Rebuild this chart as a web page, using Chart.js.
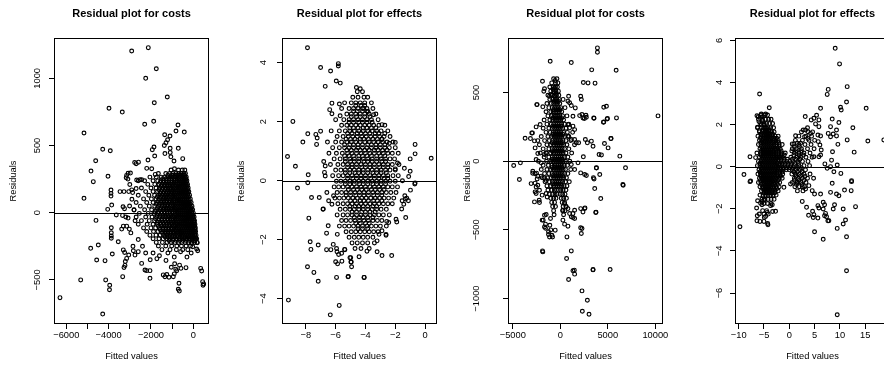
<!DOCTYPE html>
<html>
<head>
<meta charset="utf-8">
<script src="https://cdn.jsdelivr.net/npm/chart.js@4.4.0/dist/chart.umd.min.js"></script>
<style>
  html, body { margin: 0; padding: 0; background: #fff; }
  body { width: 884px; height: 376px; overflow: hidden; position: relative; }
  .panel { position: absolute; top: 0; width: 227px; height: 376px; }
</style>
</head>
<body>
<div class="panel" style="left:0px"><canvas id="p1" width="227" height="376"></canvas></div>
<div class="panel" style="left:228px"><canvas id="p2" width="227" height="376"></canvas></div>
<div class="panel" style="left:454px"><canvas id="p3" width="227" height="376"></canvas></div>
<div class="panel" style="left:681px"><canvas id="p4" width="227" height="376"></canvas></div>
<script>
// --- ticks ---
const p1XTicks = [-6000, -5000, -4000, -3000, -2000, -1000, 0];
const p1XLabels = [-6000, -4000, -2000, 0];
const p1YTicks = [-500, 0, 500, 1000];
const p2XTicks = [-8, -6, -4, -2, 0];
const p2YTicks = [-4, -2, 0, 2, 4];
const p3XTicks = [-5000, 0, 5000, 10000];
const p3YTicks = [-1000, -500, 0, 500];
const p4XTicks = [-10, -5, 0, 5, 10, 15];
const p4YTicks = [-6, -4, -2, 0, 2, 4, 6];

// --- panel 1: costs, [fitted, residual] read one by one ---
const p1Loose = [
  [-2126,1228],[-2911,1203],[-1748,1071],[-2249,1000],[-1229,861],[-1843,818],[-3983,777],[-3355,749],
  [-1871,680],[-2296,658],[-723,653],[-5164,593],[-818,608],[-426,600],[-1352,580],[-1101,571],[-1214,543],
  [-1290,520],[-1370,500],[-1857,489],[-1937,469],[-709,479],[-1093,479],[-4280,472],[-3922,461],[-1340,440],
  [-1090,448],[-1060,416],[-1824,422],[-500,402],[-912,385],[-2140,392],[-4611,387],[-2770,373],[-2700,365],
  [-2590,376],[-1965,327],[-2200,330],[-890,327],[-4833,310],[-3080,293],[-2970,295],[-3150,278],[-1800,285],
  [-4030,271],[-4724,231],[-3170,260],[-3090,250],[-2520,246],[-5164,107],[-3888,169],[-3888,144],[-3888,124],
  [-3463,157],[-3274,157],[-3050,157],[-2865,150],[-2910,170],[-2675,243],[-2600,238],[-2440,245],[-3855,57],
  [-4044,25],[-3638,-17],[-4597,-57],[-3320,44],[-3250,30],[-3010,50],[-3343,-20],[-3190,-32],[-3080,-40],
  [-3874,-112],[-3874,-149],[-3874,-173],[-3874,-190],[-3383,-122],[-3305,-100],[-3148,-100],[-3022,-122],
  [-3545,-216],[-4848,-265],[-4488,-240],[-3827,-307],[-4565,-352],[-4170,-357],[-3306,-277],[-3243,-296],
  [-3148,-340],[-3212,-363],[-3227,-392],[-3274,-407],[-3050,-315],[-2833,-283],[-2755,-315],[-2600,-290],
  [-2440,-377],[-2283,-426],[-2046,-488],[-5320,-500],[-6298,-632],[-4280,-754],[-4139,-500],[-3950,-540],
  [-3960,-573],[-3336,-476],[-2036,-350],[-1720,-342],[-1290,-355],[-2202,-431],[-2046,-431],[-1420,-463],
  [-1340,-476],[-1040,-406],[-785,-432],[-582,-414],[-345,-409],[-945,-476],[-898,-455],[-676,-525],[-708,-570],
  [-660,-583],[348,-414],[395,-434],[442,-513],[490,-530],[460,-540],[-76,-228],[-28,-253],[190,-223],[208,-283],
  [160,-270],[-2900,100],[-2750,-60],[-2800,20],[-2950,-150],[-2700,180],[-3000,210],[-2600,-200],[-2850,-250],
  [-2400,-250],[-2250,-300],[-1900,-300],[-1600,-320],[-1200,-300],[-900,-330],[-600,-290],[-300,-330],
  [-100,-300],[-1250,-460],[-1150,-480],[-880,-380],[-830,-420],[-650,-390]
];
// dense wedge, [residual, [fitted...]]
const p1Rows = [
  [318, [-1050, -700, -520, -400]],
  [292, [-1650, -1300, -1120, -960, -820, -690, -570, -450, -370]],
  [265, [-2050, -1750, -1520, -1350, -1210, -1080, -950, -830, -710, -600, -490, -390, -330]],
  [238, [-2300, -1900, -1680, -1530, -1400, -1270, -1140, -1010, -890, -780, -670, -560, -460, -370, -300]],
  [211, [-2150, -1820, -1620, -1480, -1350, -1220, -1090, -970, -850, -740, -640, -540, -440, -350, -270]],
  [184, [-2450, -2000, -1760, -1580, -1440, -1310, -1180, -1060, -940, -830, -720, -620, -520, -420, -330, -240]],
  [157, [-2250, -1900, -1690, -1530, -1390, -1260, -1130, -1010, -900, -790, -690, -590, -490, -390, -300, -210]],
  [130, [-2600, -2100, -1830, -1640, -1490, -1350, -1220, -1090, -970, -860, -750, -650, -550, -450, -360, -270, -175]],
  [103, [-2350, -1980, -1760, -1590, -1440, -1310, -1180, -1060, -940, -830, -720, -620, -520, -420, -330, -240, -140]],
  [76, [-2700, -2200, -1900, -1700, -1540, -1400, -1270, -1140, -1020, -900, -790, -690, -590, -490, -390, -300, -200, -100]],
  [49, [-2500, -2080, -1820, -1640, -1480, -1350, -1220, -1090, -970, -860, -750, -650, -550, -450, -350, -250, -150, -60]],
  [22, [-2800, -2300, -1970, -1740, -1570, -1430, -1300, -1170, -1050, -930, -820, -710, -610, -510, -410, -310, -210, -110, -30]],
  [-5, [-2550, -2130, -1860, -1660, -1500, -1360, -1230, -1100, -980, -860, -750, -650, -550, -450, -350, -250, -150, -60, 10]],
  [-32, [-2700, -2250, -1950, -1730, -1560, -1420, -1290, -1160, -1040, -920, -810, -700, -600, -500, -400, -300, -200, -110, -20, 40]],
  [-59, [-2450, -2080, -1830, -1640, -1480, -1340, -1210, -1080, -960, -850, -740, -640, -540, -440, -340, -240, -150, -60, 20, 60]],
  [-86, [-2600, -2180, -1900, -1700, -1530, -1390, -1260, -1130, -1010, -890, -780, -670, -570, -470, -370, -270, -180, -90, 0, 80]],
  [-113, [-2350, -2000, -1780, -1600, -1440, -1300, -1170, -1040, -920, -810, -700, -600, -500, -400, -300, -210, -120, -30, 50, 100]],
  [-140, [-2200, -1880, -1670, -1500, -1350, -1210, -1080, -960, -840, -730, -620, -520, -420, -320, -220, -130, -40, 40, 110]],
  [-167, [-2050, -1760, -1560, -1400, -1250, -1110, -980, -860, -740, -630, -520, -410, -310, -210, -110, -20, 60, 130]],
  [-194, [-1900, -1620, -1420, -1250, -1090, -940, -800, -670, -540, -420, -300, -180, -70, 40, 120, 160]],
  [-221, [-1750, -1460, -1240, -1040, -860, -700, -540, -380, -220, -80, 60, 170]],
  [-248, [-1650, -1300, -1020, -780, -560, -340, -130]],
  [-275, [-1480, -1100, -800, -500, -260]],
  [279, [-1200, -1010, -880, -750, -630, -510, -410]],
  [252, [-1450, -1280, -1150, -1010, -890, -760, -650, -540, -430, -350]],
  [225, [-1560, -1410, -1280, -1160, -1030, -910, -800, -690, -590, -490, -400, -320]],
  [198, [-1520, -1380, -1250, -1120, -1000, -890, -780, -670, -570, -470, -380, -290]],
  [171, [-1620, -1470, -1330, -1200, -1080, -960, -850, -740, -640, -540, -440, -350, -260]],
  [144, [-1580, -1440, -1300, -1170, -1050, -940, -830, -730, -630, -530, -430, -340, -250]],
  [117, [-1700, -1540, -1400, -1270, -1140, -1020, -910, -800, -700, -600, -500, -400, -310, -220]],
  [90, [-1650, -1500, -1370, -1240, -1110, -990, -880, -770, -670, -570, -470, -370, -280, -180]],
  [63, [-1750, -1600, -1460, -1330, -1200, -1080, -960, -850, -740, -640, -540, -440, -340, -250, -150]],
  [36, [-1690, -1540, -1400, -1270, -1140, -1020, -900, -790, -690, -590, -490, -390, -290, -190, -90]],
  [9, [-1800, -1640, -1500, -1370, -1240, -1110, -990, -870, -760, -660, -560, -460, -360, -260, -160, -70]],
  [-18, [-1720, -1580, -1440, -1310, -1180, -1060, -940, -830, -720, -620, -520, -420, -320, -220, -130, -40]],
  [-45, [-1780, -1620, -1480, -1350, -1220, -1100, -980, -860, -750, -650, -550, -450, -350, -250, -160, -70, 10]],
  [-72, [-1700, -1550, -1420, -1290, -1160, -1040, -920, -810, -700, -600, -500, -400, -300, -210, -120, -30, 40]],
  [-99, [-1650, -1500, -1370, -1240, -1110, -990, -870, -760, -650, -550, -450, -350, -250, -160, -70, 10, 70]],
  [-126, [-1560, -1420, -1280, -1150, -1020, -900, -790, -680, -570, -470, -370, -270, -180, -90, 0, 80]],
  [-153, [-1450, -1310, -1180, -1050, -920, -800, -690, -580, -480, -380, -280, -180, -90, 0, 80]],
  [-180, [-1330, -1170, -1020, -880, -750, -630, -510, -400, -290, -190, -90, 10, 100]],
  [-207, [-1150, -970, -800, -640, -480, -330, -180, -40, 80]]
];

// --- panel 2: effects ---
const p2Loose = [
  [-7.89,4.51],[-5.82,3.97],[-5.82,3.89],[-7.01,3.84],[-6.34,3.72],[-5.96,3.38],[-5.69,3.31],[-6.70,3.20],
  [-4.61,3.16],[-4.35,3.12],[-8.87,2.01],[-8.20,1.31],[-7.87,1.59],[-7.33,1.57],[-7.24,1.45],[-7.28,1.23],
  [-7.01,1.68],[-9.23,0.82],[-8.70,0.49],[-0.67,1.23],[0.41,0.76],[-7.84,0.20],[-7.87,-0.07],[-8.56,-0.25],
  [-7.62,-0.57],[-7.10,-0.57],[-7.80,-1.27],[-6.83,-0.96],[-7.71,-2.07],[-7.66,-2.33],[-7.17,-2.18],
  [-7.89,-2.92],[-7.46,-3.11],[-7.17,-3.41],[-9.17,-4.05],[-6.36,-4.55],[-5.76,-4.23],[-5.94,-3.28],
  [-5.15,-3.25],[-4.10,-3.28],[-5.04,-2.61],[-4.98,-2.76],[-4.93,-2.92],[-4.43,-2.58],[-2.24,-2.54],
  [-6.61,-2.34],[-6.32,-2.34],[-5.94,-2.30],[-5.38,-2.34],[-6.0,-2.75],[-5.80,-2.50],[-5.60,-2.46],
  [-6.16,-2.16],[-5.89,-1.82],[-6.50,-1.53],[-6.61,-1.78],[-2.62,-1.85],[-3.09,-1.82],[-3.22,-2.04],
  [-1.30,-1.25],[-1.57,-0.96],[-1.90,-1.40],[-2.57,-1.38],[-1.52,0.0],[-0.67,-0.08],[-1.0,0.32],[-1.39,0.42],
  [-1.0,0.74],[-0.67,0.91],[-1.12,-0.68],[-1.23,-0.59],[-6.8,0.65],[-6.7,0.5],[-6.75,0.28],[-6.7,0.16],
  [-6.25,2.63],[-6.4,2.41],[-6.25,2.27],[-5.75,2.6],[-5.6,2.45],[-5.7,2.2],[-1.1,0.14],[-2.0,0.4],
  [-1.85,0.6],[-2.4,1.27],[-2.0,1.3],[-2.9,1.4],[-2.7,1.6],[-3.45,2.24],[-3.83,2.35],[-4.12,2.46],[-2.89,1.9],
  [-6.85,-0.97],[-6.47,-0.68],[-6.25,-0.80],[-6.59,-0.40],[-6.14,-0.51],[-5.17,-3.26],[-4.08,-3.28],
  [-5.91,-2.41],[-5.40,-2.33],[-5.87,-2.82],[-5.58,-2.73],[-4.99,-2.61],[-4.95,-2.76],[-3.90,-2.39],
  [-3.22,-2.41],[-2.89,-2.54],[-1.54,-0.68],[-1.95,-1.31],[-2.62,-1.82],[-2.44,-1.42],[-2.89,-1.70],
  [-0.98,-0.32],[-0.69,-0.11],[-1.36,-0.51],[-1.32,-0.62],[-1.43,-0.80]
];
const p2Rows = [
  [3.02, [-4.55, -4.2]],
  [2.83, [-4.85, -4.5, -4.1, -3.85]],
  [2.64, [-5.4, -4.95, -4.65, -4.35, -4.05, -3.6]],
  [2.45, [-5.1, -4.8, -4.5, -4.2, -3.9, -3.5]],
  [2.26, [-5.25, -4.95, -4.65, -4.35, -4.05, -3.75, -3.3]],
  [2.07, [-6.0, -5.45, -5.1, -4.8, -4.5, -4.2, -3.9, -3.6, -3.15]],
  [1.88, [-5.6, -5.25, -4.95, -4.65, -4.35, -4.05, -3.75, -3.45, -3.1, -2.7]],
  [1.69, [-6.3, -5.75, -5.35, -5.05, -4.75, -4.45, -4.15, -3.85, -3.55, -3.25, -2.95, -2.5]],
  [1.50, [-5.9, -5.5, -5.15, -4.85, -4.55, -4.25, -3.95, -3.65, -3.35, -3.05, -2.75, -2.35]],
  [1.31, [-6.55, -6.0, -5.6, -5.25, -4.95, -4.65, -4.35, -4.05, -3.75, -3.45, -3.15, -2.85, -2.55, -2.15]],
  [1.12, [-6.2, -5.75, -5.4, -5.1, -4.8, -4.5, -4.2, -3.9, -3.6, -3.3, -3.0, -2.7, -2.4, -2.0]],
  [0.93, [-6.45, -5.95, -5.55, -5.2, -4.9, -4.6, -4.3, -4.0, -3.7, -3.4, -3.1, -2.8, -2.5, -2.2, -1.8]],
  [0.74, [-6.1, -5.7, -5.35, -5.05, -4.75, -4.45, -4.15, -3.85, -3.55, -3.25, -2.95, -2.65, -2.35, -2.05]],
  [0.55, [-6.35, -5.85, -5.5, -5.2, -4.9, -4.6, -4.3, -4.0, -3.7, -3.4, -3.1, -2.8, -2.5, -2.2, -1.75]],
  [0.36, [-6.0, -5.65, -5.35, -5.05, -4.75, -4.45, -4.15, -3.85, -3.55, -3.25, -2.95, -2.65, -2.35, -2.0]],
  [0.17, [-6.2, -5.8, -5.5, -5.2, -4.9, -4.6, -4.3, -4.0, -3.7, -3.4, -3.1, -2.8, -2.5, -2.15, -1.8]],
  [-0.02, [-5.95, -5.65, -5.35, -5.05, -4.75, -4.45, -4.15, -3.85, -3.55, -3.25, -2.95, -2.65, -2.35, -2.0]],
  [-0.21, [-6.1, -5.8, -5.5, -5.2, -4.9, -4.6, -4.3, -4.0, -3.7, -3.4, -3.1, -2.8, -2.5, -2.2, -1.85]],
  [-0.40, [-5.9, -5.6, -5.3, -5.0, -4.7, -4.4, -4.1, -3.8, -3.5, -3.2, -2.9, -2.6, -2.3, -1.95]],
  [-0.59, [-6.05, -5.75, -5.45, -5.15, -4.85, -4.55, -4.25, -3.95, -3.65, -3.35, -3.05, -2.75, -2.45, -2.1]],
  [-0.78, [-5.85, -5.5, -5.2, -4.9, -4.6, -4.3, -4.0, -3.7, -3.4, -3.1, -2.8, -2.5, -2.2]],
  [-0.97, [-5.7, -5.35, -5.05, -4.75, -4.45, -4.15, -3.85, -3.55, -3.25, -2.95, -2.6]],
  [-1.16, [-5.9, -5.5, -5.2, -4.9, -4.6, -4.3, -4.0, -3.7, -3.4, -3.1, -2.8, -2.4]],
  [-1.35, [-5.6, -5.3, -5.0, -4.7, -4.4, -4.1, -3.8, -3.5, -3.2, -2.9]],
  [-1.54, [-5.75, -5.4, -5.1, -4.8, -4.5, -4.2, -3.9, -3.6, -3.3, -3.0, -2.6]],
  [-1.73, [-5.3, -4.95, -4.65, -4.35, -4.05, -3.75, -3.45, -3.15]],
  [-1.92, [-5.1, -4.75, -4.45, -4.15, -3.85, -3.5]],
  [-2.11, [-4.9, -4.55, -4.2, -3.85, -3.4]],
  [-2.30, [-4.7, -4.3, -3.75]],
  [2.55, [-4.65, -4.3, -4.05]],
  [2.36, [-4.8, -4.55, -4.2, -3.9]],
  [2.17, [-4.95, -4.6, -4.35, -4.05, -3.7]],
  [1.98, [-5.1, -4.8, -4.45, -4.2, -3.9, -3.55]],
  [1.79, [-5.05, -4.8, -4.5, -4.15, -3.9, -3.6, -3.3]],
  [1.60, [-5.2, -4.9, -4.55, -4.3, -4.0, -3.7, -3.35, -3.1]],
  [1.41, [-5.3, -5.0, -4.7, -4.35, -4.1, -3.8, -3.5, -3.2, -2.9]],
  [1.22, [-5.4, -5.05, -4.8, -4.5, -4.2, -3.85, -3.6, -3.3, -3.0, -2.7]],
  [1.03, [-5.25, -4.95, -4.6, -4.35, -4.05, -3.75, -3.4, -3.15, -2.85, -2.55]],
  [0.84, [-5.4, -5.1, -4.8, -4.45, -4.2, -3.9, -3.6, -3.25, -3.0, -2.7]],
  [0.65, [-5.35, -5.0, -4.75, -4.45, -4.1, -3.85, -3.55, -3.25, -2.9, -2.65]],
  [0.46, [-5.2, -4.9, -4.6, -4.25, -4.0, -3.7, -3.4, -3.05, -2.8, -2.5]],
  [0.27, [-5.35, -5.05, -4.7, -4.45, -4.15, -3.85, -3.5, -3.25, -2.95, -2.6]],
  [0.08, [-5.2, -4.85, -4.6, -4.3, -4.0, -3.65, -3.4, -3.1, -2.75, -2.5]],
  [-0.11, [-5.35, -5.05, -4.75, -4.4, -4.15, -3.85, -3.5, -3.25, -2.95, -2.65]],
  [-0.30, [-5.15, -4.8, -4.55, -4.25, -3.95, -3.6, -3.35, -3.05, -2.75]],
  [-0.49, [-5.3, -5.0, -4.65, -4.4, -4.1, -3.8, -3.45, -3.2, -2.9]],
  [-0.68, [-5.0, -4.7, -4.35, -4.1, -3.8, -3.45, -3.2, -2.9]],
  [-0.87, [-5.05, -4.7, -4.45, -4.15, -3.85, -3.5, -3.25]],
  [-1.06, [-4.9, -4.6, -4.25, -4.0, -3.7, -3.35]],
  [-1.25, [-4.75, -4.4, -4.15, -3.85, -3.5]],
  [-1.44, [-4.65, -4.35, -4.0, -3.75]],
  [-1.63, [-4.5, -4.2, -3.85]]
];

// --- panel 3: costs ---
const p3Loose = [
  [-1060,728],[1159,718],[3910,825],[3910,793],[3308,665],[5880,662],[2427,573],[2921,570],[3660,568],
  [-1871,582],[-532,587],[-1660,527],[-1730,510],[-743,522],[-603,534],[-497,514],[-1131,473],[-955,485],
  [-603,473],[-426,492],[877,473],[807,437],[2146,473],[2216,449],[1582,388],[-2434,412],[-1836,396],[983,425],
  [1159,405],[4576,393],[4858,400],[-2117,267],[-2540,250],[3555,313],[4541,284],[4928,308],[5915,315],
  [2392,315],[2744,320],[2040,332],[1335,327],[807,267],[983,243],[1335,255],[1511,230],[-2928,206],[-3139,165],
  [-2716,148],[-2364,150],[-2646,97],[-2364,56],[-2540,12],[-2012,-12],[-1660,49],[-1483,61],[807,182],[1159,158],
  [1511,158],[1687,134],[1934,134],[2639,158],[2850,134],[3273,146],[3449,109],[5316,165],[5034,97],[4083,49],
  [4330,46],[6267,37],[6866,-48],[2427,32],[3801,-48],[4154,-97],[3555,-129],[2146,-85],[2568,-97],[2744,-104],
  [1511,-61],[1864,-12],[1159,-24],[-4901,-31],[-4196,-12],[-4302,-133],[-2893,-73],[-2646,-92],[-2364,-109],
  [-2434,-129],[-2012,-109],[-1660,-121],[-1483,-141],[10285,330],[-3069,-163],[-2540,-187],[-2364,-175],
  [-2540,-235],[-2646,-223],[-2188,-211],[-2716,-296],[-2188,-301],[-1906,-247],[-1483,-235],[-1378,-260],
  [-1660,-393],[-1483,-388],[-1906,-429],[-1025,-417],[-1096,-466],[-1660,-478],[-1237,-514],[-884,-539],
  [-532,-502],[-1836,-660],[701,-551],[1159,-653],[666,-708],[1335,-798],[1511,-822],[877,-861],[278,-429],
  [454,-458],[807,-473],[1159,-405],[1335,-410],[1511,-417],[2146,-485],[2287,-490],[2216,-526],[2146,-345],
  [2568,-345],[3731,-374],[4259,-272],[3625,-199],[6620,-175],[3449,-788],[5246,-788],[2287,-944],[2850,-1012],
  [2321,-1092],[3026,-1114],[1511,-357],[1335,-381],[807,-345],[983,-381],[454,-308],[630,-332],[278,-357],
  [-1797,-429],[-1554,-488],[-1554,-458],[-1237,-534],[-1000,-500],[-1131,-551],[-814,-551],[-2220,-284],
  [-2643,-160],[-2900,-87],[-2500,-87],[3805,-49],[3488,-121],[3763,-371],[4578,286],[4968,311],[3520,315],
  [2706,335],[2537,311],[2283,340],[2389,-369],[2600,-340],[-1871,-653],[1480,-793],[3446,-791],[-2473,412],
  [-3000,206],[-3700,167],[4651,129],[5350,165],[6585,-170]
];
const p3Rows = [
  [600, [-700, -350]],
  [570, [-900, -500, -250]],
  [540, [-1100, -750, -500, -300]],
  [510, [-1000, -700, -450, -200]],
  [480, [-1300, -850, -600, -400, -150]],
  [450, [-1100, -800, -550, -350, -100, 300]],
  [420, [-1400, -950, -700, -500, -300, -50]],
  [390, [-1200, -850, -600, -400, -200, 50, 500]],
  [360, [-1500, -1000, -750, -500, -300, -100, 150]],
  [330, [-1300, -900, -650, -450, -250, -50, 250, 700]],
  [300, [-1700, -1100, -800, -550, -350, -150, 50, 350]],
  [270, [-1400, -950, -700, -480, -280, -80, 150, 450, 900]],
  [240, [-1800, -1200, -850, -600, -400, -200, 0, 250, 600]],
  [210, [-1500, -1050, -750, -520, -320, -120, 80, 350, 750, 1300]],
  [180, [-2000, -1300, -900, -650, -450, -250, -50, 150, 450, 900]],
  [150, [-1650, -1150, -800, -560, -360, -160, 40, 280, 600, 1100]],
  [120, [-2200, -1400, -1000, -700, -480, -280, -80, 120, 350, 700, 1500]],
  [90, [-1800, -1200, -850, -600, -400, -200, 0, 200, 450, 900]],
  [60, [-2100, -1450, -1000, -720, -500, -300, -100, 100, 300, 600, 1200]],
  [30, [-1700, -1200, -850, -600, -400, -200, 0, 200, 420, 800]],
  [0, [-2300, -1450, -1000, -720, -500, -300, -100, 100, 300, 550, 1000]],
  [-30, [-1800, -1250, -880, -620, -400, -200, 0, 200, 420, 750]],
  [-60, [-2000, -1400, -1000, -720, -500, -300, -100, 100, 300, 550, 1100]],
  [-90, [-1650, -1200, -850, -600, -400, -200, 0, 200, 450, 800]],
  [-120, [-1900, -1350, -950, -700, -480, -280, -80, 120, 350, 650]],
  [-150, [-1600, -1150, -820, -580, -380, -180, 20, 250, 550, 950]],
  [-180, [-1400, -1000, -700, -480, -280, -80, 150, 400, 700]],
  [-210, [-1300, -900, -620, -400, -200, 50, 300, 600]],
  [-240, [-1150, -800, -550, -330, 0, 250, 500]],
  [-270, [-1000, -700, -450, 100, 350, 650]],
  [-300, [-900, -600, 200, 450]],
  [-330, [-800, -500, 300, 600]],
  [-360, [-700, 250, 500]],
  [-390, [-650, 350]],
  [435, [-650, -420, -200]],
  [375, [-700, -450, -250, -50]],
  [315, [-750, -500, -300, -100, 150]],
  [255, [-800, -550, -330, -130, 100]],
  [195, [-800, -560, -350, -150, 60, 300]],
  [135, [-850, -600, -380, -180, 20, 230]],
  [75, [-850, -600, -400, -200, 0, 200]],
  [15, [-850, -600, -400, -200, 0, 200]],
  [-45, [-850, -600, -400, -200, 0, 200]],
  [-105, [-800, -580, -380, -180, 20, 250]],
  [-165, [-800, -580, -380, -180, 50]]
];

// --- panel 4: effects ---
const p4Loose = [
  [9.07,5.62],[9.93,4.88],[11.44,3.80],[7.69,3.67],[7.49,3.43],[-5.87,3.45],[6.18,2.77],[10.12,2.82],
  [10.26,2.69],[11.31,3.07],[15.19,2.77],[-3.96,2.80],[3.15,2.38],[4.33,2.22],[4.86,2.30],[5.39,2.44],
  [5.85,2.22],[5.19,2.03],[5.85,1.90],[8.48,2.26],[9.80,2.10],[9.33,1.74],[8.15,1.90],[12.56,1.85],
  [11.44,1.27],[15.52,1.22],[18.68,1.27],[12.82,0.69],[7.69,1.58],[8.15,1.42],[8.68,1.55],[9.33,1.46],
  [9.60,1.06],[8.54,0.71],[8.35,0.31],[9.47,0.08],[10.19,-0.32],[12.30,-0.67],[-8.96,-0.37],[-7.64,-0.68],
  [-7.77,0.47],[-6.66,0.43],[-6.13,2.37],[-5.34,2.37],[-4.68,2.50],[-6.0,2.14],[-5.54,1.98],[-5.01,1.98],
  [1.24,1.47],[0.58,1.08],[0.91,1.08],[1.57,1.11],[2.23,1.11],[2.75,1.74],[3.21,1.74],[3.68,1.66],[4.20,1.58],
  [3.02,1.42],[3.68,1.34],[5.65,1.50],[6.18,1.46],[5.72,1.19],[6.05,1.03],[6.31,0.79],[6.18,0.55],[5.85,0.47],
  [4.86,0.47],[7.03,0.13],[7.49,-0.08],[8.15,0.0],[8.81,-0.24],[-9.75,-2.85],[-6.46,-1.96],[-6.33,-2.33],
  [-5.80,-2.60],[-5.01,-2.60],[-4.22,-2.76],[-4.68,-2.36],[-5.01,-2.25],[-4.35,-2.17],[-5.67,-1.74],
  [-5.34,-1.65],[-5.01,-1.58],[-3.37,-1.81],[-3.69,-1.85],[-2.71,-2.12],[4.99,-3.09],[6.70,-3.45],[2.56,-1.65],
  [3.41,-1.93],[3.81,-2.31],[4.60,-2.12],[4.73,-2.41],[5.85,-1.96],[5.65,-1.85],[6.70,-1.69],[6.97,-1.81],
  [6.70,-2.01],[7.16,-2.22],[6.97,-2.33],[7.36,-2.38],[7.62,-2.57],[7.82,-2.57],[5.65,-2.44],[4.86,-2.28],
  [8.48,-0.79],[8.15,-1.22],[9.33,-1.30],[9.80,-1.38],[8.94,-1.81],[8.68,-2.01],[10.65,-2.01],[11.11,-2.53],
  [10.65,-2.72],[9.47,-2.93],[11.31,-3.33],[10.91,-1.11],[12.23,-1.14],[13.09,-1.90],[12.30,-0.71],
  [11.31,-4.94],[9.47,-7.03],[4.53,-1.14],[4.99,-1.30],[6.18,-1.30],[2.56,-0.95],[3.87,-0.90],[3.21,-1.06],
  [0.25,-0.82],[1.57,-0.74],[-1.06,-0.98],[-7.77,-0.71],[-6.39,2.42],[-5.53,2.50],[-5.27,2.18],[-4.94,1.99],
  [-6.26,1.87],[-5.93,1.71],[-6.26,-1.62],[-5.4,-1.81],[-5.27,-2.09],[-5.93,-2.25],[-4.94,-2.41],
  [-4.28,-2.70],[-6.39,-2.57],[-4.48,-2.09],[-4.15,-2.25],[-3.3,-2.13]
];
const p4Rows = [
  [2.45, [-5.6, -4.9, -4.3]],
  [2.25, [-6.1, -5.3, -4.7, -4.1, -3.6]],
  [2.05, [-5.7, -5.0, -4.5, -3.9, -3.3]],
  [1.85, [-6.3, -5.5, -5.0, -4.6, -4.2, -3.7, -3.1, 3.6]],
  [1.65, [-5.9, -5.3, -4.8, -4.4, -4.0, -3.5, -3.0, 2.4, 4.6]],
  [1.45, [-6.2, -5.6, -5.1, -4.6, -4.2, -3.8, -3.3, -2.8, -2.2, 1.9, 3.3, 4.4]],
  [1.25, [-5.9, -5.4, -4.9, -4.5, -4.1, -3.7, -3.2, -2.7, -2.2, 1.2, 2.6, 3.9, 5.0]],
  [1.05, [-6.1, -5.6, -5.1, -4.7, -4.3, -3.9, -3.5, -3.0, -2.5, -2.0, -1.4, 1.9, 3.1, 4.3]],
  [0.85, [-5.8, -5.3, -4.9, -4.5, -4.1, -3.7, -3.3, -2.8, -2.3, -1.8, 0.6, 1.4, 2.4, 3.6, 4.9]],
  [0.65, [-6.4, -5.6, -5.1, -4.7, -4.3, -3.9, -3.5, -3.1, -2.6, -2.1, -1.5, -0.8, 1.0, 1.9, 2.9, 4.1]],
  [0.45, [-5.9, -5.3, -4.9, -4.5, -4.1, -3.7, -3.3, -2.9, -2.4, -1.9, -1.3, 0.3, 1.5, 2.3, 3.3, 4.5]],
  [0.25, [-6.1, -5.6, -5.1, -4.7, -4.3, -3.9, -3.5, -3.1, -2.7, -2.2, -1.7, -1.1, -0.5, 0.1, 0.8, 1.7, 2.6, 3.7]],
  [0.05, [-6.3, -5.8, -5.3, -4.9, -4.5, -4.1, -3.7, -3.3, -2.9, -2.5, -2.0, -1.5, -0.9, -0.3, 0.3, 1.0, 1.9, 2.9, 4.0]],
  [-0.15, [-6.0, -5.5, -5.1, -4.7, -4.3, -3.9, -3.5, -3.1, -2.7, -2.2, -1.7, -1.2, -0.6, 0.0, 0.6, 1.3, 2.2, 3.2]],
  [-0.35, [-6.2, -5.7, -5.3, -4.9, -4.5, -4.1, -3.7, -3.3, -2.9, -2.4, -1.9, -1.3, 0.5, 1.2, 2.0, 2.9, 4.1]],
  [-0.55, [-5.9, -5.4, -5.0, -4.6, -4.2, -3.8, -3.4, -3.0, -2.5, -2.0, -1.4, 1.0, 1.8, 2.6, 3.6, 4.8]],
  [-0.75, [-6.1, -5.6, -5.1, -4.7, -4.3, -3.9, -3.5, -3.0, -2.5, -1.9, 0.6, 1.5, 2.3, 3.3]],
  [-0.95, [-5.8, -5.3, -4.8, -4.4, -4.0, -3.6, -3.1, -2.6, -2.0, 1.1, 2.0, 3.0]],
  [-1.15, [-5.5, -5.0, -4.6, -4.2, -3.8, -3.3, -2.8, -2.2, 1.6, 2.7]],
  [-1.35, [-5.8, -5.2, -4.7, -4.2, -3.7, -3.2, -2.6]],
  [-1.55, [-5.4, -4.8, -4.2, -3.6, -3.0]],
  [-1.75, [-5.0, -4.3, -3.6]],
  [1.75, [-5.2, -4.75, -4.35, -3.95]],
  [1.55, [-5.5, -5.0, -4.6, -4.2, -3.8, -3.3]],
  [1.35, [-5.7, -5.2, -4.8, -4.4, -4.0, -3.55, -3.05, -2.5]],
  [1.15, [-5.6, -5.15, -4.75, -4.35, -3.95, -3.5, -3.05, -2.6, -2.1]],
  [0.95, [-5.5, -5.1, -4.7, -4.3, -3.9, -3.5, -3.05, -2.55, -2.05, 1.0, 2.0]],
  [0.75, [-5.55, -5.15, -4.75, -4.35, -3.95, -3.55, -3.1, -2.6, -2.1, -1.6, 0.5, 1.4, 2.4]],
  [0.55, [-5.6, -5.15, -4.75, -4.35, -3.95, -3.55, -3.1, -2.6, -2.1, -1.6, -1.0, 0.9, 1.9, 2.8]],
  [0.35, [-5.5, -5.1, -4.7, -4.3, -3.9, -3.5, -3.1, -2.65, -2.15, -1.6, -1.0, -0.4, 0.6, 1.3, 2.1]],
  [0.15, [-5.8, -5.35, -4.9, -4.5, -4.1, -3.7, -3.3, -2.85, -2.4, -1.9, -1.4, -0.8, -0.2, 0.4, 1.1, 1.8]],
  [-0.05, [-5.5, -5.1, -4.7, -4.3, -3.9, -3.5, -3.1, -2.7, -2.25, -1.75, -1.2, -0.6, 0.1, 0.8, 1.6, 2.4]],
  [-0.25, [-5.8, -5.3, -4.9, -4.5, -4.1, -3.7, -3.3, -2.85, -2.4, -1.9, -1.4, 0.9, 1.6, 2.5]],
  [-0.45, [-5.6, -5.2, -4.8, -4.4, -4.0, -3.6, -3.2, -2.75, -2.25, -1.7, 1.3, 2.2, 3.1]],
  [-0.65, [-5.7, -5.2, -4.8, -4.4, -4.0, -3.6, -3.2, -2.75, -2.2, 1.0, 1.9, 2.9]],
  [-0.85, [-5.5, -5.0, -4.6, -4.2, -3.8, -3.35, -2.85, -2.3, 1.4, 2.5]],
  [-1.05, [-5.2, -4.8, -4.4, -4.0, -3.55, -3.05, -2.5]],
  [-1.25, [-5.0, -4.5, -4.0, -3.5, -2.9]]
];

const FONT = "'Liberation Sans', Arial, Helvetica, sans-serif";
Chart.defaults.font.family = FONT;
Chart.defaults.color = '#000';

const fmt = v => String(v).replace('-', '\u2212');

const toPoints = (loose, rows) =>
  loose.map(([x, y]) => ({x, y}))
    .concat(rows.flatMap(([y, xs]) => xs.map(x => ({x, y}))));

// box, abline(h = 0) and the R-style rotated y labels
const rFrame = {
  id: 'rFrame',
  afterDatasetsDraw(chart, args, opts) {
    const {ctx, chartArea: a, scales} = chart;
    const ys = scales.y;
    ctx.save();
    ctx.strokeStyle = '#000';
    ctx.lineWidth = 1;
    const y0 = Math.round(ys.getPixelForValue(0)) + 0.5;
    ctx.beginPath();
    ctx.moveTo(a.left, y0);
    ctx.lineTo(a.right, y0);
    ctx.stroke();
    ctx.strokeRect(a.left + 0.5, a.top + 0.5, a.right - a.left - 1, a.bottom - a.top - 1);
    ctx.fillStyle = '#000';
    ctx.font = '9.3px ' + FONT;
    ctx.textAlign = 'center';
    ctx.textBaseline = 'middle';
    for (const t of ys.ticks) {
      ctx.save();
      ctx.translate(a.left - opts.gap, ys.getPixelForValue(t.value));
      ctx.rotate(-Math.PI / 2);
      ctx.fillText(fmt(t.value), 0, 0);
      ctx.restore();
    }
    ctx.restore();
  }
};

function makePanel(id, title, points, xTicks, xLabels, yTicks, xr, yr, gap) {
  new Chart(document.getElementById(id), {
    type: 'scatter',
    data: {
      datasets: [{
        data: points,
        pointStyle: 'circle',
        pointRadius: 1.9,
        pointBorderWidth: 1.15,
        borderColor: '#000',
        backgroundColor: 'rgba(0,0,0,0)'
      }]
    },
    options: {
      responsive: false,
      animation: false,
      events: [],
      layout: { padding: { left: 0, right: 18, top: 0, bottom: 0 } },
      plugins: {
        legend: { display: false },
        tooltip: { enabled: false },
        title: {
          display: true, text: title, fullSize: false, color: '#000',
          font: { size: 11, weight: 'bold' },
          padding: { top: 7.4, bottom: 17.4 }
        },
        rFrame: { gap: gap }
      },
      scales: {
        x: {
          type: 'linear', position: 'bottom', min: xr[0], max: xr[1], bounds: 'data',
          afterBuildTicks: s => { s.ticks = xTicks.map(v => ({value: v})); },
          afterFit: s => { s.height = 52; s.paddingLeft = 0; s.paddingRight = 0; },
          ticks: {
            autoSkip: false, maxRotation: 0, minRotation: 0, padding: 1,
            font: { size: 9.3 }, color: '#000',
            callback: v => xLabels.includes(v) ? fmt(v) : ''
          },
          grid: { drawOnChartArea: false, drawTicks: true, tickLength: 5, color: '#000', lineWidth: 1 },
          border: { display: false },
          title: { display: true, text: 'Fitted values', color: '#000', font: { size: 9.3 }, padding: { top: 0, bottom: 14.4 } }
        },
        y: {
          type: 'linear', position: 'left', min: yr[0], max: yr[1], bounds: 'data',
          afterBuildTicks: s => { s.ticks = yTicks.map(v => ({value: v})); },
          afterFit: s => { s.width = 54; s.paddingTop = 0; s.paddingBottom = 0; },
          ticks: { display: false },
          grid: { drawOnChartArea: false, drawTicks: true, tickLength: 5, color: '#000', lineWidth: 1 },
          border: { display: false },
          title: { display: true, text: 'Residuals', color: '#000', font: { size: 9.3 }, padding: { top: 7.7, bottom: 0 } }
        }
      }
    },
    plugins: [rFrame]
  });
}

makePanel('p1', 'Residual plot for costs', toPoints(p1Loose, p1Rows),
  p1XTicks, p1XLabels, p1YTicks, [-6581, 742], [-828, 1300], 17);
makePanel('p2', 'Residual plot for effects', toPoints(p2Loose, p2Rows),
  p2XTicks, p2XTicks, p2YTicks, [-9.6, 0.8], [-4.86, 4.84], 19);
makePanel('p3', 'Residual plot for costs', toPoints(p3Loose, p3Rows),
  p3XTicks, p3XTicks, p3YTicks, [-5500, 10810], [-1185, 897], 32);
makePanel('p4', 'Residual plot for effects', toPoints(p4Loose, p4Rows),
  p4XTicks, p4XTicks, p4YTicks, [-10.73, 19.9], [-7.47, 6.11], 16);
</script>
</body>
</html>
